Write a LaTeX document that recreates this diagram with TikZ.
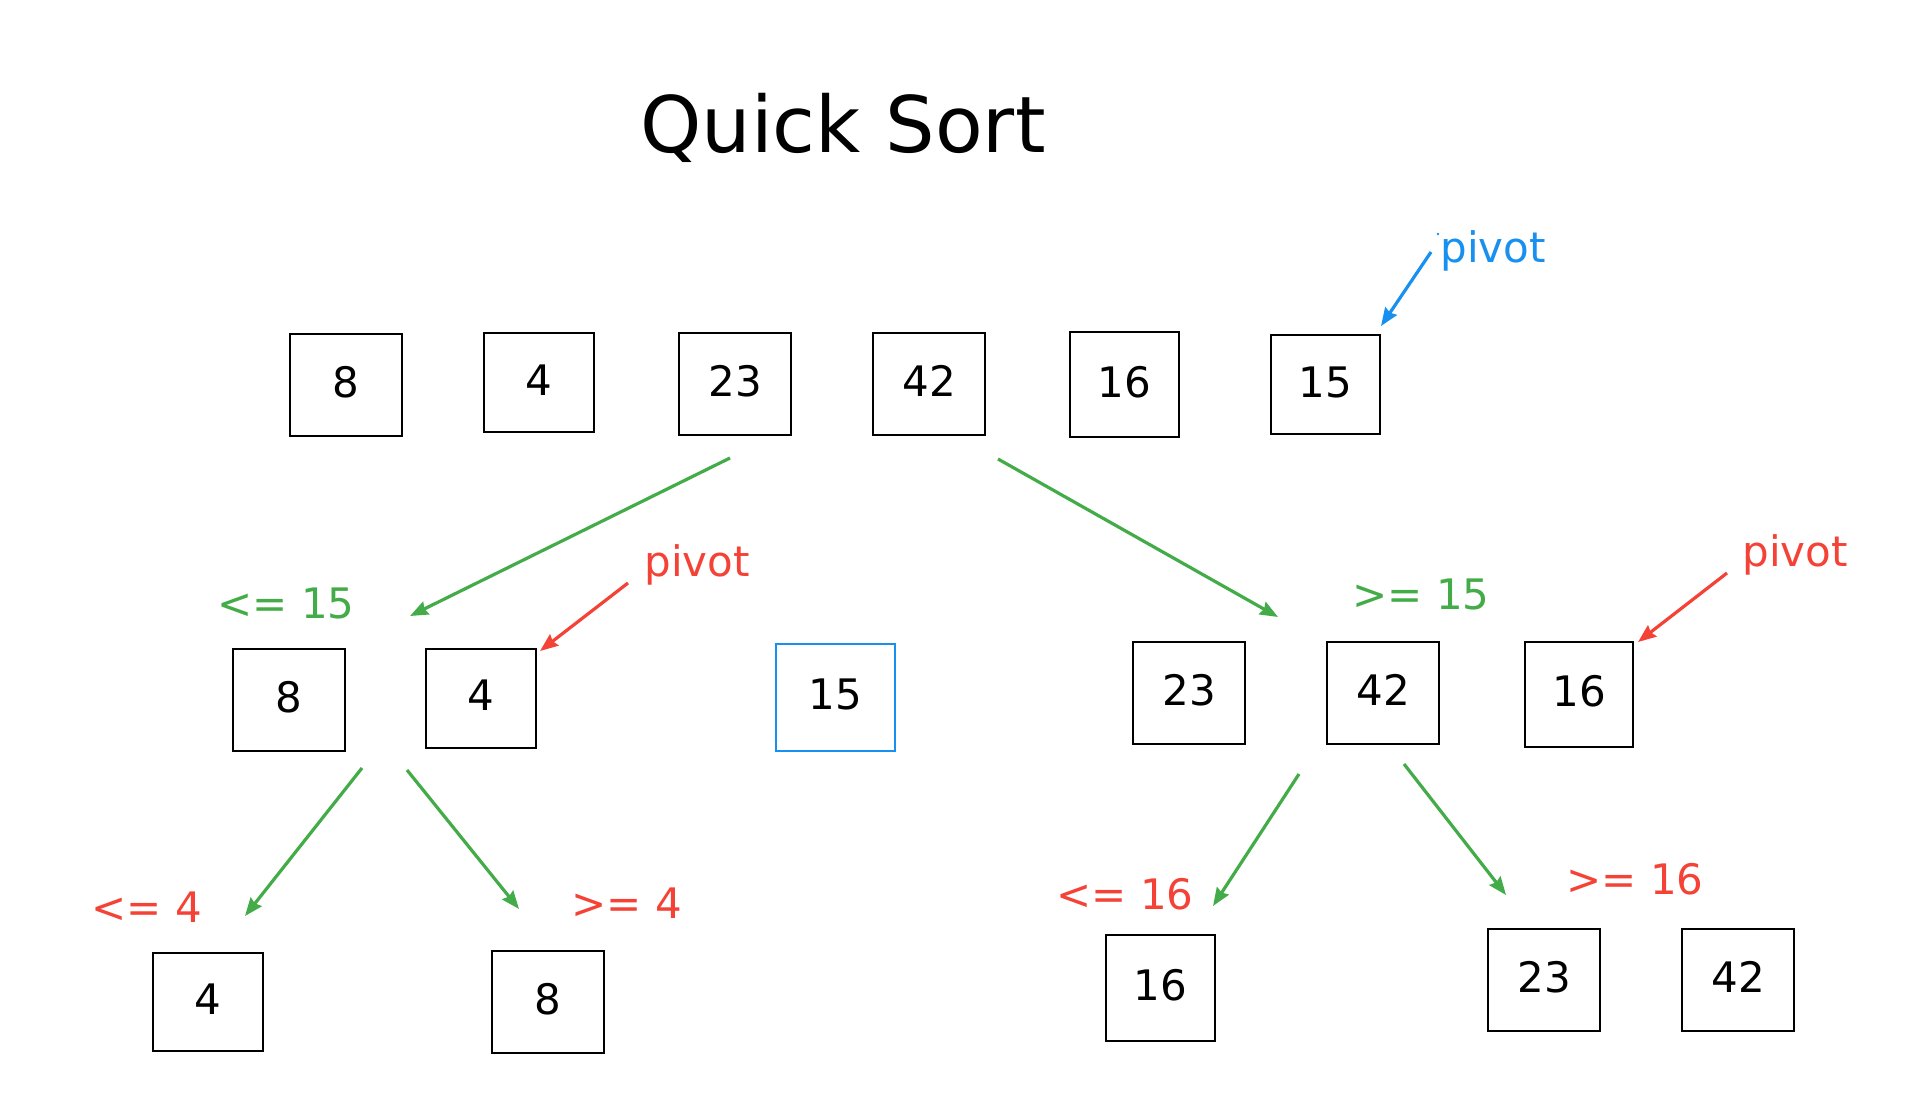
\documentclass[tikz,border=0pt]{standalone}
\usepackage{fontspec}
\setmainfont{DejaVu Sans}
\usetikzlibrary{arrows.meta}
\definecolor{qsgreen}{RGB}{67,172,72}
\definecolor{qsred}{RGB}{244,67,54}
\definecolor{qsblue}{RGB}{24,144,240}
\tikzset{
  cell/.style={draw, line width=1pt, minimum width=56pt, minimum height=51pt, inner sep=0pt, text depth=3pt, font=\fontsize{21}{25}\selectfont},
  lbl/.style={anchor=base west, inner sep=0pt, font=\fontsize{21}{25}\selectfont},
  split/.style={draw=qsgreen, line width=1.6pt, -{Stealth[length=9pt,width=7pt,inset=1pt]}},
  pick/.style={line width=1.6pt, -{Stealth[length=9pt,width=7pt,inset=1pt]}}
}
\begin{document}
\begin{tikzpicture}[x=0.5pt,y=0.5pt,yscale=-1,xscale=1]
\path[use as bounding box] (0,0) rectangle (1920,1106);

% Title
\node (title) at (843,153) [anchor=base, inner sep=0pt, font=\fontsize{39}{46}\selectfont] {Quick Sort};

%Shape: Square -- first row
\node [cell] (a1) at (346,385) {8};
\node [cell, minimum width=55pt, minimum height=49.5pt] (a2) at (539,383) {4};
\node [cell] (a3) at (735,384) {23};
\node [cell] (a4) at (929,384) {42};
\node [cell, minimum width=54.5pt, minimum height=52.5pt] (a5) at (1124,385) {16};
\node [cell, minimum width=54.5pt, minimum height=49.5pt] (a6) at (1325,385) {15};

%Shape: Square -- second row
\node [cell] (b1) at (289,700) {8};
\node [cell, minimum width=55pt, minimum height=49.5pt] (b2) at (481,698) {4};
\node [cell, draw=qsblue, minimum width=59.5pt, minimum height=53.5pt] (b3) at (835,697) {15};
\node [cell] (b4) at (1189,693) {23};
\node [cell] (b5) at (1383,693) {42};
\node [cell, minimum width=54pt, minimum height=52.5pt] (b6) at (1579,694) {16};

%Shape: Square -- third row
\node [cell, minimum width=55pt, minimum height=49pt] (c1) at (208,1002) {4};
\node [cell] (c2) at (548,1002) {8};
\node [cell, minimum width=54.5pt, minimum height=53pt] (c3) at (1160,988) {16};
\node [cell] (c4) at (1544,980) {23};
\node [cell] (c5) at (1738,980) {42};

% Text Node
\node [lbl, text=qsblue] (pv1) at (1440,263) {pivot};
\node [lbl, text=qsred] (pv2) at (644,576) {pivot};
\node [lbl, text=qsred] (pv3) at (1742,566) {pivot};
\node [lbl, text=qsgreen] (le15) at (217,618) {<= 15};
\node [lbl, text=qsgreen] (ge15) at (1352,609) {>= 15};
\node [lbl, text=qsred] (le4) at (91,922) {<= 4};
\node [lbl, text=qsred] (ge4) at (571,918) {>= 4};
\node [lbl, text=qsred] (le16) at (1056,909) {<= 16};
\node [lbl, text=qsred] (ge16) at (1566,894) {>= 16};

% arrow ends
\coordinate (p1s) at (1431,252); \coordinate (p1e) at (1381,326);
\coordinate (p2s) at (628,583);  \coordinate (p2e) at (540,651);
\coordinate (p3s) at (1727,573); \coordinate (p3e) at (1638,642);
\coordinate (s1s) at (730,458);  \coordinate (s1e) at (410,616);
\coordinate (s2s) at (998,459);  \coordinate (s2e) at (1278,617);
\coordinate (s3s) at (362,768);  \coordinate (s3e) at (245,916);
\coordinate (s4s) at (407,770);  \coordinate (s4e) at (519,909);
\coordinate (s5s) at (1299,774); \coordinate (s5e) at (1213,906);
\coordinate (s6s) at (1404,764); \coordinate (s6e) at (1506,895);

%Shape: Arrow -- pivots
\draw [pick, draw=qsblue, fill=qsblue] (p1s) -- (p1e);
\fill [qsblue] (1438,234) circle (1.3);
\draw [pick, draw=qsred] (p2s) -- (p2e);
\draw [pick, draw=qsred] (p3s) -- (p3e);

%Shape: Arrow -- partitions
\draw [split] (s1s) -- (s1e);
\draw [split] (s2s) -- (s2e);
\draw [split] (s3s) -- (s3e);
\draw [split] (s4s) -- (s4e);
\draw [split] (s5s) -- (s5e);
\draw [split] (s6s) -- (s6e);

\end{tikzpicture}
\end{document}
